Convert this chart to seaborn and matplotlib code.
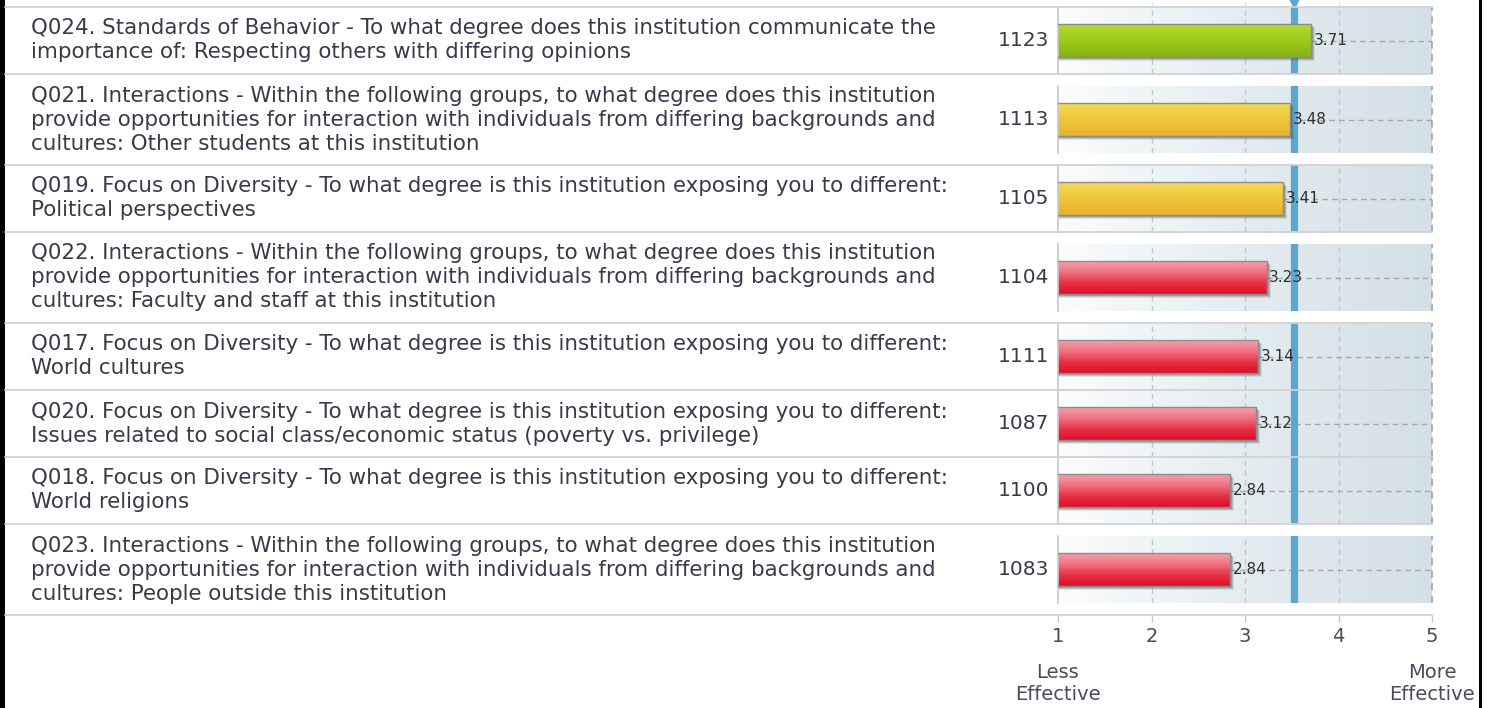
import numpy as np
import pandas as pd
import matplotlib
matplotlib.use("Agg")
import matplotlib.pyplot as plt
import matplotlib.transforms as mtransforms
from matplotlib.colors import LinearSegmentedColormap
from matplotlib.lines import Line2D
from matplotlib.patches import Rectangle
import seaborn as sns

# ------------------------------------------------------------------
# data
questions = [
    "Q024. Standards of Behavior - To what degree does this institution communicate the\n"
    "importance of: Respecting others with differing opinions",
    "Q021. Interactions - Within the following groups, to what degree does this institution\n"
    "provide opportunities for interaction with individuals from differing backgrounds and\n"
    "cultures: Other students at this institution",
    "Q019. Focus on Diversity - To what degree is this institution exposing you to different:\n"
    "Political perspectives",
    "Q022. Interactions - Within the following groups, to what degree does this institution\n"
    "provide opportunities for interaction with individuals from differing backgrounds and\n"
    "cultures: Faculty and staff at this institution",
    "Q017. Focus on Diversity - To what degree is this institution exposing you to different:\n"
    "World cultures",
    "Q020. Focus on Diversity - To what degree is this institution exposing you to different:\n"
    "Issues related to social class/economic status (poverty vs. privilege)",
    "Q018. Focus on Diversity - To what degree is this institution exposing you to different:\n"
    "World religions",
    "Q023. Interactions - Within the following groups, to what degree does this institution\n"
    "provide opportunities for interaction with individuals from differing backgrounds and\n"
    "cultures: People outside this institution",
]
codes = ["Q024", "Q021", "Q019", "Q022", "Q017", "Q020", "Q018", "Q023"]
counts = [1123, 1113, 1105, 1104, 1111, 1087, 1100, 1083]
scores = [3.71, 3.48, 3.41, 3.23, 3.14, 3.12, 2.84, 2.84]
benchmark = 3.52
scale_ticks = [1, 2, 3, 4, 5]
scale_ends = ["Less\nEffective", "More\nEffective"]

df = pd.DataFrame({"code": codes, "question": questions, "n": counts, "score": scores})

# ------------------------------------------------------------------
# layout (pixels)
W, H = 1491, 708
X_LEFT, X_RIGHT = 1058, 1432
TXT = "#383a4c"
GRID = "#bfc8cd"
SEP = "#d2d2d2"
FS = 15.4


def rect(x0, y0, x1, y1):
    return [x0 / W, 1 - y1 / H, (x1 - x0) / W, (y1 - y0) / H]


def fig_line(fig, x0, x1, y, color=SEP, lw=1.3):
    fig.add_artist(Line2D([x0 / W, x1 / W], [1 - y / H, 1 - y / H],
                          transform=fig.transFigure, color=color, lw=lw))


bar_maps = {
    "green": LinearSegmentedColormap.from_list("g", ["#b4db2a", "#9ccb1c", "#86b215"]),
    "yellow": LinearSegmentedColormap.from_list("y", ["#f4da55", "#efc63c", "#e7b02c"]),
    "red": LinearSegmentedColormap.from_list("r", ["#f6a0ab", "#f07282", "#e63246", "#e00f28"]),
}
bg_map = LinearSegmentedColormap.from_list("bg", ["#fbfcfd", "#e4ecf0", "#d3e0e6"])


def bar_colour(s):
    if s >= benchmark:
        return "green"
    if s >= benchmark - 0.2:
        return "yellow"
    return "red"


sns.set_style("white")
plt.rcParams["font.family"] = ["DejaVu Sans"]

fig = plt.figure(figsize=(W / 100, H / 100), dpi=100)
fig.patch.set_facecolor("white")

# small strip of the previous panel at the very top
top = fig.add_axes(rect(X_LEFT, 0, X_RIGHT, 7))
top.set_xlim(1, 5)
top.set_ylim(0, 1)
for v in scale_ticks[1:]:
    top.axvline(v, color="#e2e6e8", ls=(0, (4, 3)), lw=1)
top.plot([benchmark], [0.75], marker="v", ms=9, color="#5ba7cf", clip_on=True)
top.axis("off")

fig_line(fig, 5, X_RIGHT, 7)

y = 7
for i, row in df.iterrows():
    nl = row["question"].count("\n") + 1
    row_h = 67 + 24 * (nl - 2)
    yc = y + row_h / 2

    fig.text(31 / W, 1 - yc / H, row["question"], ha="left", va="center",
             fontsize=FS, color=TXT, linespacing=1.25)
    fig.text(1049 / W, 1 - yc / H, str(row["n"]), ha="right", va="center",
             fontsize=14.5, color=TXT)

    ax = fig.add_axes(rect(X_LEFT, yc - 33.5, X_RIGHT, yc + 33.5))
    sub = df.iloc[[i]]
    sns.barplot(data=sub, x="score", y="code", orient="h", width=0.49,
                color="#cccccc", ax=ax, zorder=3)

    # panel background
    ax.imshow(np.linspace(0, 1, 256)[None, :], extent=(0, 1, 0, 1),
              transform=ax.transAxes, aspect="auto", cmap=bg_map, zorder=0)
    for v in scale_ticks[1:-1]:
        ax.axvline(v, color=GRID, ls=(0, (4, 3)), lw=1, zorder=1)
    ax.axvline(scale_ticks[-1], color="#a9a9a9", ls=(0, (4, 3)), lw=1.3,
               zorder=1, clip_on=False)
    ax.axvline(benchmark, color="#5ba7cf", lw=5.2, zorder=2)

    # bar: shadow, gradient, outline
    p = ax.patches[0]
    bx, by, bw, bh = p.get_x(), p.get_y(), p.get_width(), p.get_height()
    for k, a in [(4, 0.12), (3, 0.2), (2, 0.25)]:
        shadow_tr = ax.transData + mtransforms.ScaledTranslation(k / 100, -k / 100, fig.dpi_scale_trans)
        ax.add_patch(Rectangle((bx, by), bw, bh, transform=shadow_tr,
                               facecolor="#444444", alpha=a, lw=0, zorder=2.2))
    grad = ax.imshow(np.linspace(0, 1, 64)[:, None], extent=(scale_ticks[0], bx + bw, by + bh, by),
                     origin="upper", aspect="auto", cmap=bar_maps[bar_colour(row["score"])],
                     zorder=2.5)
    grad.set_clip_path(p)
    p.set_facecolor("none")
    p.set_edgecolor("#8c8c8c")
    p.set_linewidth(1)

    # value label and dashed guide
    ax.plot([row["score"], scale_ticks[-1]], [0, 0], color="#a8a8a8",
            ls=(0, (4, 3)), lw=1, zorder=1.5)
    ax.annotate(f"{row['score']:.2f}", xy=(row["score"], 0), xytext=(2, 0),
                textcoords="offset points", ha="left", va="center",
                fontsize=11, color="#2e2e2e", zorder=4)

    ax.set_xlim(scale_ticks[0], scale_ticks[-1])
    ax.set_ylim(0.5, -0.5)
    ax.set_xlabel("")
    ax.set_ylabel("")
    ax.set_xticks([])
    ax.set_yticks([])
    for s in ["top", "right", "bottom"]:
        ax.spines[s].set_visible(False)
    ax.spines["left"].set_color("#c8c8c8")
    ax.spines["left"].set_linewidth(1.2)

    y += row_h
    fig_line(fig, 5, X_RIGHT, y)

# scale axis under the panels
sc = fig.add_axes(rect(X_LEFT, y - 40, X_RIGHT, y))
sc.set_facecolor("none")
sc.set_xlim(scale_ticks[0], scale_ticks[-1])
sc.set_xticks(scale_ticks)
sc.set_xticklabels([str(t) for t in scale_ticks])
sc.set_yticks([])
for s in sc.spines.values():
    s.set_visible(False)
sc.tick_params(axis="x", bottom=True, length=5, width=1, color="#c8c8c8",
               pad=4, labelsize=14, labelcolor="#4a4a5c")
for xv, lab in zip([scale_ticks[0], scale_ticks[-1]], scale_ends):
    sc.annotate(lab, xy=(xv, 0), xycoords=("data", "axes fraction"),
                xytext=(0, -48), textcoords="offset pixels", ha="center", va="top",
                fontsize=14, color="#4a4a5c", linespacing=1.2, annotation_clip=False)

# window borders
fig.add_artist(Rectangle((0, 0), 4.5 / W, 1, transform=fig.transFigure,
                         facecolor="black", lw=0))
fig.add_artist(Rectangle((1479 / W, 0), 2.8 / W, 1, transform=fig.transFigure,
                         facecolor="black", lw=0))

fig.savefig("out.png", dpi=100, facecolor="white")
